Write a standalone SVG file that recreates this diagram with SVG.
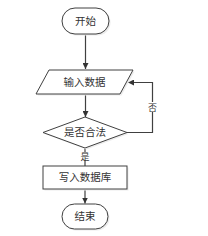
<svg xmlns="http://www.w3.org/2000/svg" width="208" height="236" viewBox="0 0 208 236">
<style>
.s{fill:#fff;stroke:#404040;stroke-width:1}
.sh{fill:#ececec;stroke:none}
.t{font-family:"Noto Sans CJK SC","Noto Sans",sans-serif;font-size:10.5px;fill:#333;text-anchor:middle}
.c{fill:none;stroke:#404040;stroke-width:1.2}
.l{font-family:"Noto Sans CJK SC","Noto Sans",sans-serif;font-size:9px;fill:#333;text-anchor:middle}
</style>
<defs>
<marker id="a" viewBox="0 0 10 10" refX="10" refY="5" markerWidth="6" markerHeight="6" orient="auto" markerUnits="userSpaceOnUse">
<path d="M0,0 L10,5 L0,10 z" fill="#333"/>
</marker>
</defs>
<g id="connectors">
<line class="c" x1="85.5" y1="34" x2="85.5" y2="69" marker-end="url(#a)"/>
<line class="c" x1="85.5" y1="94" x2="85.5" y2="117" marker-end="url(#a)"/>
<line class="c" x1="85" y1="148" x2="85" y2="152"/>
<line class="c" x1="85" y1="161" x2="85" y2="166"/>
<line class="c" x1="85" y1="189" x2="85" y2="203.5" marker-end="url(#a)"/>
<polyline class="c" points="127,132.5 152.5,132.5 152.5,112"/>
<polyline class="c" points="152.5,102 152.5,82.5 128,82.5" marker-end="url(#a)"/>
<text class="l" x="152.5" y="110.5">否</text>
<text class="l" x="85" y="160">是</text>
</g>
<g id="start">
<rect class="sh" x="63.5" y="9.5" width="47" height="26" rx="13"/>
<rect class="s" x="62" y="8" width="47" height="26" rx="13"/>
<text class="t" x="85.5" y="24.7">开始</text>
</g>
<g id="input">
<polygon class="sh" points="50.5,71.5 134.5,71.5 121.5,95.5 37.5,95.5"/>
<polygon class="s" points="49,70 133,70 120,94 36,94"/>
<text class="t" x="84.5" y="85.7">输入数据</text>
</g>
<g id="decision">
<polygon class="sh" points="86.5,118.5 128.5,134 86.5,149.5 44.5,134"/>
<polygon class="s" points="85,117 127,132.5 85,148 43,132.5"/>
<text class="t" x="85" y="136.2">是否合法</text>
</g>
<g id="write">
<rect class="sh" x="44.5" y="167.5" width="84" height="23"/>
<rect class="s" x="43" y="166" width="84" height="23"/>
<text class="t" x="85" y="181.2">写入数据库</text>
</g>
<g id="end">
<rect class="sh" x="63.5" y="205.5" width="46" height="25" rx="12.5"/>
<rect class="s" x="62" y="204" width="46" height="25" rx="12.5"/>
<text class="t" x="85" y="220.2">结束</text>
</g>
</svg>
